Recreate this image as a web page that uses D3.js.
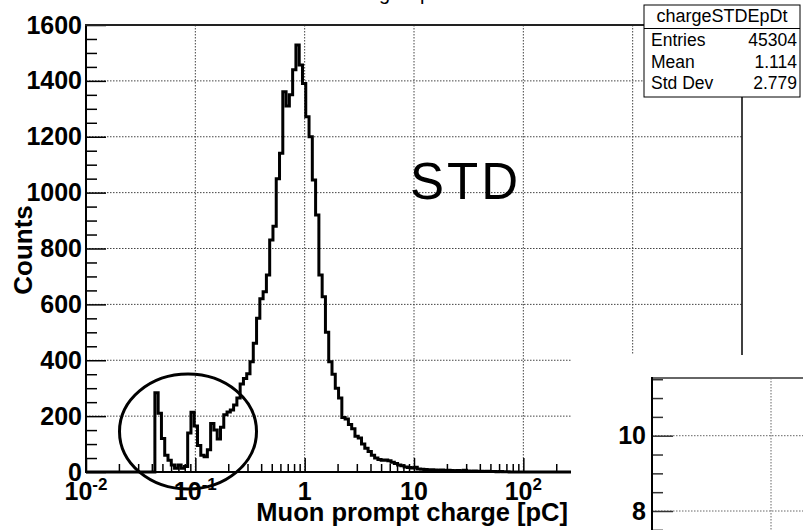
<!DOCTYPE html>
<html>
<head>
<meta charset="utf-8">
<script src="https://cdn.jsdelivr.net/npm/d3@7"></script>
<style>
  body { margin: 0; background: #fff; }
  svg { display: block; }
  text { font-family: 'Liberation Sans', Arial, Helvetica, sans-serif; }
</style>
</head>
<body>
<div id="chart"></div>
<script>
'use strict';

// log-binned histogram: 200 bins from 10^-2 to 10^4
var binLog0 = -2;
var binLogStep = 0.03;
var binCount = 200;
var firstFilledBin = 21;
var counts = [
  284, 210, 120, 60, 42, 25, 13, 25, 13, 20,
  140, 214, 165, 95, 60, 55, 80, 174, 150, 118,
  160, 205, 215, 222, 240, 265, 315, 335, 352, 395,
  461, 550, 620, 645, 705, 830, 880, 1050, 1141, 1361,
  1310, 1350, 1440, 1528, 1457, 1391, 1272, 1200, 1045, 920,
  705, 627, 500, 395, 350, 300, 265, 195, 190, 170,
  155, 128, 122, 100, 85, 73, 60, 50, 45, 42,
  43, 40, 35, 30, 25, 22, 18, 16, 14, 17,
  11, 10, 9, 8, 8, 7, 6, 7, 5, 6,
  5, 4, 5, 4, 6, 4, 3, 4, 3, 3,
  2, 3, 2, 2, 1, 2, 1, 1
];

var yTicks = [0, 200, 400, 600, 800, 1000, 1200, 1400, 1600];
var xTickValues = [0.01, 0.1, 1, 10, 100];
var xTickBase = ['10', '10', '1', '10', '10'];
var xTickExp = ['-2', '-1', '', '', '2'];
var xGrid = [0.1, 1, 10, 100, 1000];

var statNames = ['Entries', 'Mean', 'Std Dev'];
var statValues = ['45304', '1.114', '2.779'];

var insetYTicks = [8, 10];
var insetYMinor = [7.5, 8.5, 9, 9.5, 10.5, 11, 11.5];
var insetXGrid = [0.1];

var width = 803;
var height = 530;
var svg = d3.select('#chart')
  .append('svg')
  .attr('width', width)
  .attr('height', height);

var x = d3.scaleLog().domain([0.01, 1e4]).range([86, 742]);
var y = d3.scaleLinear().domain([0, 1600]).range([472, 25]);

// grid
svg.append('g').selectAll('line')
  .data(yTicks.filter(function(d) { return d > 0 && d < 1600; }))
  .enter().append('line')
  .attr('x1', 86).attr('x2', 742)
  .attr('y1', function(d) { return y(d); })
  .attr('y2', function(d) { return y(d); })
  .attr('stroke', '#444').attr('stroke-dasharray', '1.5,1.5');
svg.append('g').selectAll('line')
  .data(xGrid)
  .enter().append('line')
  .attr('x1', function(d) { return x(d); })
  .attr('x2', function(d) { return x(d); })
  .attr('y1', 25).attr('y2', 472)
  .attr('stroke', '#444').attr('stroke-dasharray', '1.5,1.5');

// histogram outline
var pts = d3.range(binCount).map(function(i) {
  var n = counts[i - firstFilledBin] || 0;
  return [Math.pow(10, binLog0 + i * binLogStep), n];
});
pts.push([Math.pow(10, binLog0 + binCount * binLogStep), 0]);
var line = d3.line()
  .x(function(d) { return x(d[0]); })
  .y(function(d) { return y(d[1]); })
  .curve(d3.curveStepAfter);
svg.append('path')
  .attr('d', line(pts))
  .attr('fill', 'none')
  .attr('stroke', '#000')
  .attr('stroke-width', 3);

// axes
var minorX = [];
[0.01, 0.1, 1, 10, 100, 1000].forEach(function(d) {
  for (var k = 2; k <= 9; k++) minorX.push(d * k);
});
var gx = svg.append('g').attr('transform', 'translate(0,472)');
gx.append('g').call(d3.axisBottom(x).tickValues(minorX).tickSize(-8).tickSizeOuter(0).tickFormat(''));
gx.append('g').call(d3.axisBottom(x).tickValues([0.01, 0.1, 1, 10, 100, 1000]).tickSize(-14).tickSizeOuter(0).tickFormat(''));
gx.selectAll('.domain').remove();
gx.selectAll('line').attr('stroke', '#000').attr('stroke-width', 1.5);

var minorY = d3.range(0, 1601, 50).filter(function(d) { return d % 200 !== 0; });
var gy = svg.append('g').attr('transform', 'translate(86,0)');
gy.append('g').call(d3.axisLeft(y).tickValues(minorY).tickSize(-11).tickSizeOuter(0).tickFormat(''));
gy.append('g').call(d3.axisLeft(y).tickValues(yTicks).tickSize(-20).tickSizeOuter(0).tickPadding(4).tickFormat(d3.format('d')));
gy.selectAll('.domain').remove();
gy.selectAll('line').attr('stroke', '#000').attr('stroke-width', 1.5);
gy.selectAll('text')
  .attr('font-family', "'Liberation Sans', Arial, sans-serif")
  .attr('font-size', 25).attr('font-weight', 'bold').attr('fill', '#000');

// x tick labels with exponents
var xl = svg.append('g').selectAll('text')
  .data(xTickValues)
  .enter().append('text')
  .attr('x', function(d) { return x(d); })
  .attr('y', 500)
  .attr('text-anchor', 'middle')
  .attr('font-size', 25).attr('font-weight', 'bold');
xl.append('tspan').text(function(d, i) { return xTickBase[i]; });
xl.append('tspan')
  .attr('dy', -10).attr('font-size', 17)
  .text(function(d, i) { return xTickExp[i]; });

// frame
svg.append('line').attr('x1', 86).attr('x2', 86).attr('y1', 24).attr('y2', 473).attr('stroke', '#000').attr('stroke-width', 2);
svg.append('line').attr('x1', 85).attr('x2', 742).attr('y1', 472).attr('y2', 472).attr('stroke', '#000').attr('stroke-width', 2);
svg.append('line').attr('x1', 85).attr('x2', 742).attr('y1', 25).attr('y2', 25).attr('stroke', '#222').attr('stroke-width', 2);
svg.append('line').attr('x1', 742).attr('x2', 742).attr('y1', 25).attr('y2', 472).attr('stroke', '#000').attr('stroke-width', 1.5);

// axis titles
svg.append('text')
  .attr('x', 568).attr('y', 521)
  .attr('text-anchor', 'end')
  .attr('font-size', 25.5).attr('font-weight', 'bold')
  .text('Muon prompt charge [pC]');
svg.append('text')
  .attr('transform', 'translate(32,250) rotate(-90)')
  .attr('text-anchor', 'middle')
  .attr('font-size', 26).attr('font-weight', 'bold')
  .text('Counts');

// title (cut off at the top of the canvas)
svg.append('text')
  .attr('x', 414).attr('y', 0)
  .attr('text-anchor', 'middle')
  .attr('font-size', 20)
  .text('Charge Spectrum');

// annotation
svg.append('ellipse')
  .attr('cx', 188).attr('cy', 431.5)
  .attr('rx', 68.5).attr('ry', 57.5)
  .attr('fill', 'none').attr('stroke', '#000').attr('stroke-width', 3);
svg.append('text')
  .attr('x', 410).attr('y', 199)
  .attr('font-family', 'Lato, "Noto Sans", sans-serif')
  .attr('font-size', 51)
  .attr('letter-spacing', 3)
  .text('STD');

// stats box
var sb = svg.append('g');
sb.append('rect')
  .attr('x', 644).attr('y', 5).attr('width', 156).attr('height', 92)
  .attr('fill', '#fff').attr('stroke', '#000').attr('stroke-width', 1);
sb.append('line')
  .attr('x1', 644).attr('x2', 800).attr('y1', 28.5).attr('y2', 28.5)
  .attr('stroke', '#000').attr('stroke-width', 1);
sb.append('text')
  .attr('x', 722).attr('y', 22)
  .attr('text-anchor', 'middle').attr('font-size', 18)
  .text('chargeSTDEpDt');
sb.selectAll('.sn').data(statNames).enter().append('text')
  .attr('x', 651).attr('y', function(d, i) { return 46 + i * 21.7; })
  .attr('font-size', 17.5)
  .text(function(d) { return d; });
sb.selectAll('.sv').data(statValues).enter().append('text')
  .attr('x', 797).attr('y', function(d, i) { return 46 + i * 21.7; })
  .attr('text-anchor', 'end')
  .attr('font-size', 17.5)
  .text(function(d) { return d; });

// overlapping second pad
var pad = svg.append('g');
pad.append('rect')
  .attr('x', 571).attr('y', 355).attr('width', 232).attr('height', 175)
  .attr('fill', '#fff');
var iy = d3.scaleLinear().domain([8, 10]).range([511, 435.7]);
var ix = d3.scaleLog().domain([0.01, 1e4]).range([652, 652 + 6 * 119]);
pad.selectAll('.hg').data(insetYTicks).enter().append('line')
  .attr('x1', 652).attr('x2', 803)
  .attr('y1', function(d) { return iy(d); })
  .attr('y2', function(d) { return iy(d); })
  .attr('stroke', '#666').attr('stroke-dasharray', '1.5,1.5');
pad.selectAll('.vg').data(insetXGrid).enter().append('line')
  .attr('x1', function(d) { return ix(d); })
  .attr('x2', function(d) { return ix(d); })
  .attr('y1', 378).attr('y2', 530)
  .attr('stroke', '#666').attr('stroke-dasharray', '1.5,1.5');
var giy = pad.append('g').attr('transform', 'translate(652,0)');
giy.append('g').call(d3.axisLeft(iy).tickValues(insetYMinor).tickSize(-11).tickSizeOuter(0).tickFormat(''));
giy.append('g').call(d3.axisLeft(iy).tickValues(insetYTicks).tickSize(-21).tickSizeOuter(0).tickPadding(6).tickFormat(d3.format('d')));
giy.selectAll('.domain').remove();
giy.selectAll('line').attr('stroke', '#333').attr('stroke-width', 1.5);
giy.selectAll('text')
  .attr('font-family', "'Liberation Sans', Arial, sans-serif")
  .attr('font-size', 25).attr('font-weight', 'bold').attr('fill', '#000');
pad.append('line').attr('x1', 652).attr('x2', 803).attr('y1', 378).attr('y2', 378)
  .attr('stroke', '#666').attr('stroke-width', 2);
pad.append('line').attr('x1', 652).attr('x2', 652).attr('y1', 377).attr('y2', 530)
  .attr('stroke', '#000').attr('stroke-width', 2);
</script>
</body>
</html>
